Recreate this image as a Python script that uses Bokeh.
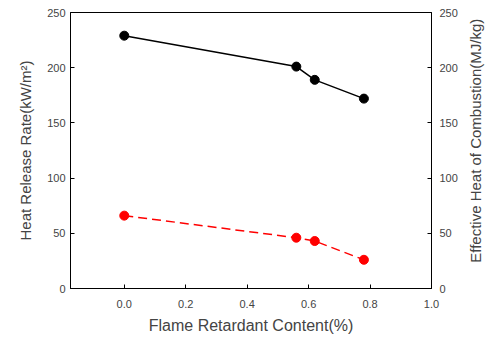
import math
from bokeh.plotting import figure
from bokeh.layouts import row
from bokeh.models import Range1d, LinearAxis, FixedTicker, CustomJSTickFormatter
from bokeh.core.properties import value
from bokeh.embed import file_html
from bokeh.resources import INLINE

# Flame retardant content (%) and measured properties
content = [0.0, 0.56, 0.62, 0.78]
heat_release_rate = [229, 201, 189, 172]        # kW/m^2
effective_heat_combustion = [66, 46, 43, 26]    # MJ/kg

x_ticks = [0.0, 0.2, 0.4, 0.6, 0.8, 1.0]
y_ticks = [0, 50, 100, 150, 200, 250]

FONT = "Liberation Sans"
TEXT = "#444444"

p = figure(width=460, height=340, output_backend="svg", toolbar_location=None,
           x_range=Range1d(-0.175, 1.0), y_range=Range1d(0, 250),
           min_border_left=70, min_border_right=27, min_border_top=12, min_border_bottom=52)
p.extra_y_ranges = {"ehc": Range1d(0, 250)}

p.grid.visible = False
p.outline_line_color = "black"
p.outline_line_width = 1
p.background_fill_color = "white"
p.border_fill_color = "white"

p.xaxis.axis_label = "Flame Retardant Content(%)"
p.yaxis.axis_label = "Heat Release Rate(kW/m²)"
p.xaxis.ticker = FixedTicker(ticks=x_ticks)
p.xaxis.formatter = CustomJSTickFormatter(code="return tick.toFixed(1);")
p.yaxis.ticker = FixedTicker(ticks=y_ticks)

right = LinearAxis(y_range_name="ehc", ticker=FixedTicker(ticks=y_ticks))
p.add_layout(right, "right")

for ax in p.axis:
    ax.major_tick_in = 4
    ax.major_tick_out = 0
    ax.minor_tick_in = 0
    ax.minor_tick_out = 0
    ax.axis_line_color = "black"
    ax.major_tick_line_color = "black"
    ax.major_label_text_font = FONT
    ax.major_label_text_font_size = "11px"
    ax.major_label_text_color = TEXT
    ax.axis_label_text_font = FONT
    ax.axis_label_text_font_size = "15px"
    ax.axis_label_text_font_style = "normal"
    ax.axis_label_text_color = TEXT

p.xaxis.major_label_standoff = 11
p.xaxis.axis_label_standoff = 6
p.xaxis.axis_label_text_font_size = "16px"
p.yaxis[0].axis_label_standoff = 10
right.major_label_standoff = 8

p.line(content, heat_release_rate, line_color="black", line_width=1.5)
p.scatter(content, heat_release_rate, size=9, fill_color="black", line_color="black")

p.line(content, effective_heat_combustion, y_range_name="ehc", line_color="red",
       line_width=1.5, line_dash="9 5")
p.scatter(content, effective_heat_combustion, y_range_name="ehc", size=9,
          fill_color="red", line_color="red")

# Narrow strip carrying the right-hand axis title, reading bottom to top
side = figure(width=27, height=340, output_backend="svg", toolbar_location=None,
              x_range=Range1d(0, 27), y_range=Range1d(0, 340),
              min_border=0, x_axis_type=None, y_axis_type=None)
side.grid.visible = False
side.outline_line_color = None
side.text(x=[15], y=[182], text=["Effective Heat of Combustion(MJ/kg)"],
          angle=math.pi / 2, text_align="center", text_baseline="middle",
          text_font=value(FONT), text_font_size="15px", text_color=TEXT)

layout = row(p, side, spacing=0)
open("out.html", "w").write(file_html(layout, INLINE))
